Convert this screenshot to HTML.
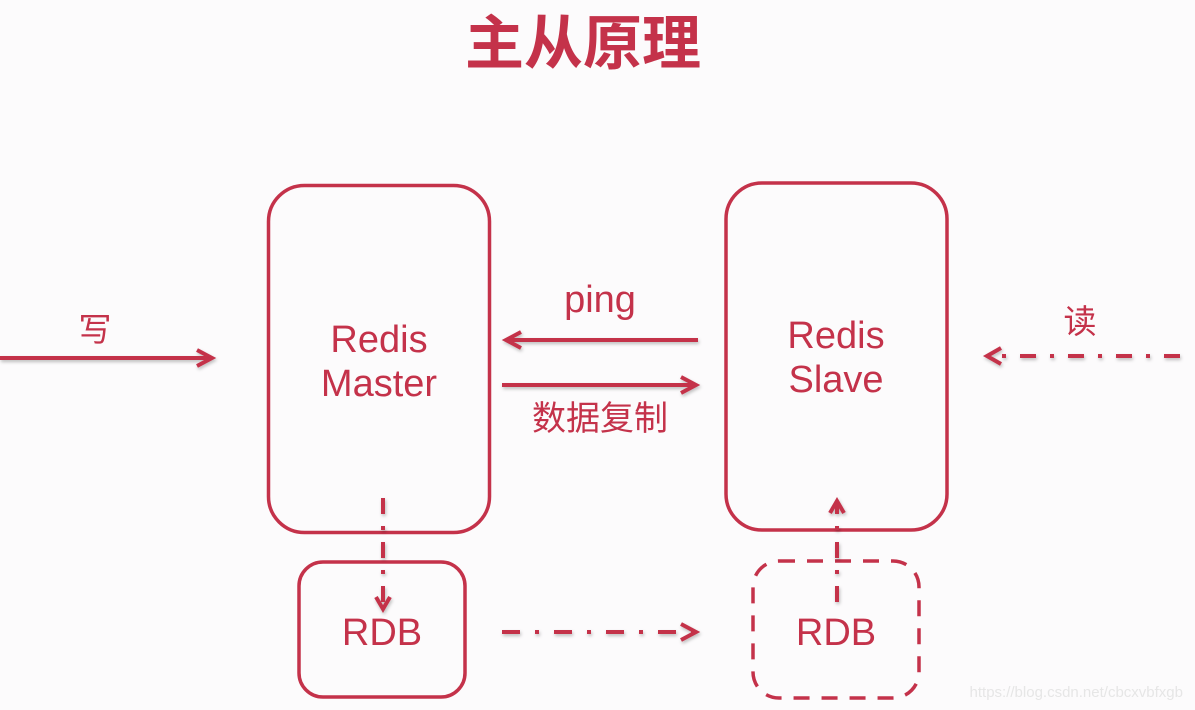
<!DOCTYPE html>
<html><head><meta charset="utf-8"><style>
html,body{margin:0;padding:0;background:#fcfbfc;}
svg{display:block}
</style></head><body>
<svg width="1195" height="710" viewBox="0 0 1195 710" xmlns="http://www.w3.org/2000/svg">
<defs>
<filter id="sh" x="-10%" y="-50%" width="120%" height="200%"><feDropShadow dx="1" dy="2" stdDeviation="1.5" flood-color="#000" flood-opacity="0.25"/></filter>
</defs>
<rect width="1195" height="710" fill="#fcfbfc"/>
<g fill="#c4324a" font-family="'Liberation Sans','Noto Sans CJK SC',sans-serif">
<text x="583" y="64" text-anchor="middle" font-size="59" font-weight="bold" font-family="'Noto Sans CJK SC',sans-serif">主从原理</text>
<text x="379" y="352" text-anchor="middle" font-size="38">Redis</text>
<text x="379" y="396" text-anchor="middle" font-size="38">Master</text>
<text x="836" y="348" text-anchor="middle" font-size="38">Redis</text>
<text x="836" y="392" text-anchor="middle" font-size="38">Slave</text>
<text x="382" y="645" text-anchor="middle" font-size="38">RDB</text>
<text x="836" y="645" text-anchor="middle" font-size="38">RDB</text>
<text x="600" y="312" text-anchor="middle" font-size="38">ping</text>
<text x="600" y="430" text-anchor="middle" font-size="34" font-family="'Noto Sans CJK SC',sans-serif">数据复制</text>
<text x="95" y="341" text-anchor="middle" font-size="33" font-family="'Noto Sans CJK SC',sans-serif">写</text>
<text x="1080" y="333" text-anchor="middle" font-size="33" font-family="'Noto Sans CJK SC',sans-serif">读</text>
</g>
<g fill="none" stroke="#c4324a" stroke-width="3.5">
<rect x="268.5" y="185.5" width="221" height="347" rx="36"/>
<rect x="726" y="183" width="221" height="347" rx="36"/>
<rect x="299" y="562" width="166" height="135" rx="24"/>
<rect x="753" y="561" width="166" height="137" rx="26" stroke-dasharray="16,12"/>
</g>
<g fill="none" stroke="#c4324a" stroke-width="4" filter="url(#sh)" stroke-linecap="butt">
<path d="M0 358 H211"/><path d="M197 350 L212 358 L197 366" stroke-linejoin="miter"/>
<path d="M698 340 H507"/><path d="M521 332 L506 340 L521 348"/>
<path d="M502 385 H695"/><path d="M681 377 L696 385 L681 393"/>
<path d="M1180 356 H990" stroke-dasharray="16,14,4,14"/><path d="M1001 348 L987 356 L1001 364"/>
<path d="M502 632 H695" stroke-dasharray="18,15,4,15"/><path d="M681 624 L696 632 L681 640"/>
<path d="M383 498 V608" stroke-dasharray="16,12,4,12"/><path d="M376 597 L383 609 L390 597"/>
<path d="M837 602 V502" stroke-dasharray="16,12,4,12"/><path d="M830 513 L837 501 L844 513"/>
</g>
<text x="1183" y="697" text-anchor="end" font-family="'Liberation Sans',sans-serif" font-size="15" fill="#e6e6e6">https://blog.csdn.net/cbcxvbfxgb</text>
</svg>
</body></html>
